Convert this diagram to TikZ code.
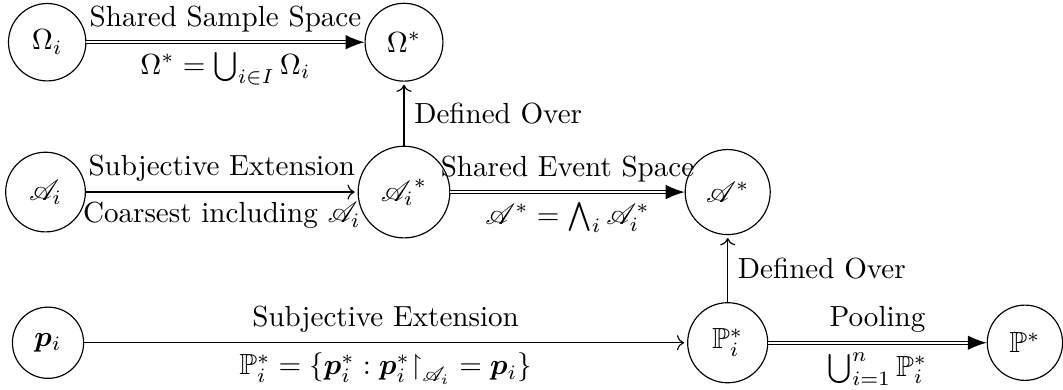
\documentclass[tikz,border=0pt]{standalone}
\usepackage{amssymb}
\usepackage{mathrsfs}
\usepackage{bm}
\usetikzlibrary{arrows.meta}

\begin{document}
\begin{tikzpicture}[
  space/.style={draw, circle, inner sep=4.7pt},
  extend/.style={->, shorten >=1pt},
  merge/.style={double, -{Latex[length=6.5pt, width=5pt]}},
]
\useasboundingbox (0,0) rectangle (12.84,4.70);
\node[space] (omegai) at (0.57,4.19) {$\Omega_i$};
\node[space] (omegas) at (4.88,4.19) {$\Omega^*$};
\node[space] (algi) at (0.55,2.38) {$\mathscr{A}_i$};
\node[space] (algis) at (4.88,2.38) {${\mathscr{A}_i}^*$};
\node[space] (algs) at (8.79,2.38) {$\mathscr{A}^*$};
\node[space] (probi) at (0.58,0.56) {$\bm{p}_i$};
\node[space] (probis) at (8.79,0.56) {$\mathbb{P}_i^*$};
\node[space] (probs) at (12.38,0.56) {$\mathbb{P}^*$};

\draw[merge] (omegai) -- node[above] {Shared Sample Space} node[below] {$\Omega^* = \bigcup_{i\in I}\Omega_i$} (omegas);
\draw[extend] (algi) -- node[above] {Subjective Extension} node[below] {Coarsest including $\mathscr{A}_i$} (algis);
\draw[merge] (algis) -- node[above] {Shared Event Space} node[below] {$\mathscr{A}^* = \bigwedge_i \mathscr{A}_i^*$} (algs);
\draw[extend] (probi) -- node[above] {Subjective Extension} node[below] {$\mathbb{P}_i^* = \{\bm{p}_i^* : \bm{p}_i^*{\upharpoonright}_{\mathscr{A}_i} = \bm{p}_i\}$} (probis);
\draw[merge] (probis) -- node[above] {Pooling} node[below] {$\bigcup_{i=1}^n \mathbb{P}_i^*$} (probs);
\draw[extend] (algis) -- node[right] {Defined Over} (omegas);
\draw[extend] (probis) -- node[right] {Defined Over} (algs);
\end{tikzpicture}
\end{document}
